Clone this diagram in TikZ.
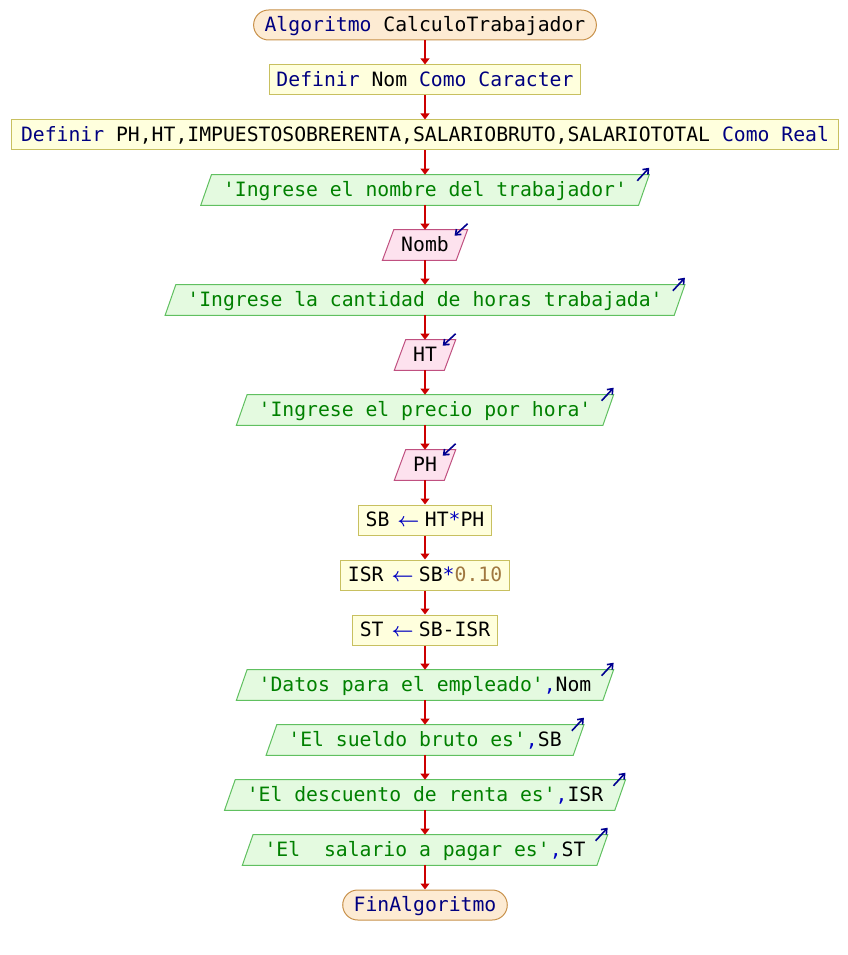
\documentclass[tikz,border=0pt]{standalone}
\usepackage{fontspec}
\setmonofont{DejaVu Sans Mono}
\usetikzlibrary{arrows.meta,backgrounds}
\definecolor{kwc}{HTML}{000080}
\definecolor{strc}{HTML}{008000}
\definecolor{opc}{HTML}{0000C0}
\definecolor{numc}{HTML}{A07840}
\definecolor{termfill}{HTML}{FDEBD3}
\definecolor{termdraw}{HTML}{C8914A}
\definecolor{procfill}{HTML}{FFFFDD}
\definecolor{procdraw}{HTML}{C8C060}
\definecolor{outfill}{HTML}{E4FAE0}
\definecolor{outdraw}{HTML}{60C060}
\definecolor{infill}{HTML}{FDE2EE}
\definecolor{indraw}{HTML}{C05080}
\definecolor{flowc}{HTML}{CC0000}
\definecolor{iconc}{HTML}{000090}
\newcommand{\kw}[1]{\textcolor{kwc}{#1}}
\newcommand{\strg}[1]{\textcolor{strc}{#1}}
\newcommand{\opr}[1]{\textcolor{opc}{#1}}
\newcommand{\nmb}[1]{\textcolor{numc}{#1}}
\newcommand{\asg}{\makebox[26.6pt]{\hspace{2pt}\textcolor{opc}{\boldmath$\leftarrow$}}}
\tikzset{
  every node/.style={font=\ttfamily\fontsize{14.8}{17}\selectfont, text height=10.8pt, text depth=1pt, inner ysep=0pt, minimum height=22.5pt},
  termbox/.style={draw=termdraw, fill=termfill, line width=0.75pt, rounded corners=11.25pt, inner xsep=8.25pt},
  procbox/.style={draw=procdraw, fill=procfill, line width=0.75pt, inner xsep=5.25pt},
  outbox/.style={inner xsep=16.5pt},
  inbox/.style={inner xsep=13.9pt},
  outshape/.style={draw=outdraw, fill=outfill, line width=0.75pt},
  inshape/.style={draw=indraw, fill=infill, line width=0.75pt},
  flow/.style={draw=flowc, line width=1.5pt, -{Triangle[width=6.5pt,length=4.5pt]}},
  icon/.style={draw=iconc, line width=1.2pt, -{Straight Barb[width=5.5pt,length=3.5pt]}}
}
\begin{document}
\begin{tikzpicture}[x=0.75pt,y=-0.75pt]
\useasboundingbox (0,0) rectangle (848,955);
\node[termbox] (n0) at (425,25) {\kw{Algoritmo} CalculoTrabajador};
\node[procbox] (n1) at (425,80) {\kw{Definir} Nom \kw{Como} \kw{Caracter}};
\node[procbox, minimum width=620pt] (n2) at (425,135) {\kw{Definir} PH,HT,IMPUESTOSOBRERENTA,SALARIOBRUTO,SALARIOTOTAL \kw{Como} \kw{Real}};
\node[outbox] (o1) at (425,190) {\strg{'Ingrese el nombre del trabajador'}};
\node[inbox] (i1) at (425,245) {Nomb};
\node[outbox] (o2) at (425,300) {\strg{'Ingrese la cantidad de horas trabajada'}};
\node[inbox] (i2) at (425,355) {HT};
\node[outbox] (o3) at (425,410) {\strg{'Ingrese el precio por hora'}};
\node[inbox] (i3) at (425,465) {PH};
\node[procbox] (p1) at (425,520) {SB\asg HT\opr{*}PH};
\node[procbox] (p2) at (425,575) {ISR\asg SB\opr{*}\nmb{0.10}};
\node[procbox] (p3) at (425,630) {ST\asg SB-ISR};
\node[outbox] (o4) at (425,685) {\strg{'Datos para el empleado'}\opr{,}Nom};
\node[outbox] (o5) at (425,740) {\strg{'El sueldo bruto es'}\opr{,}SB};
\node[outbox] (o6) at (425,795) {\strg{'El descuento de renta es'}\opr{,}ISR};
\node[outbox] (o7) at (425,850) {\strg{'El~~salario a pagar es'}\opr{,}ST};
\node[termbox] (n3) at (425,905) {\kw{FinAlgoritmo}};
\begin{scope}[on background layer]
\fill[white] (0,0) rectangle (848,955);
\foreach \n in {o1,o2,o3,o4,o5,o6,o7}
  \path[outshape] ([xshift=8pt]\n.north west) -- (\n.north east) -- ([xshift=-8pt]\n.south east) -- (\n.south west) -- cycle;
\foreach \n in {i1,i2,i3}
  \path[inshape] ([xshift=8.5pt]\n.north west) -- (\n.north east) -- ([xshift=-8.5pt]\n.south east) -- (\n.south west) -- cycle;
\end{scope}
\foreach \n in {o1,o2,o3,o4,o5,o6,o7}
  \draw[icon] ([shift={(-12,6)}]\n.north east) -- ([shift={(0,-7)}]\n.north east);
\foreach \n in {i1,i2,i3}
  \draw[icon] ([shift={(0,-6)}]\n.north east) -- ([shift={(-13,6)}]\n.north east);
\foreach \a/\b in {n0/n1,n1/n2,n2/o1,o1/i1,i1/o2,o2/i2,i2/o3,o3/i3,i3/p1,p1/p2,p2/p3,p3/o4,o4/o5,o5/o6,o6/o7,o7/n3}
  \draw[flow] (\a.south) -- (\b.north);
\end{tikzpicture}
\end{document}
